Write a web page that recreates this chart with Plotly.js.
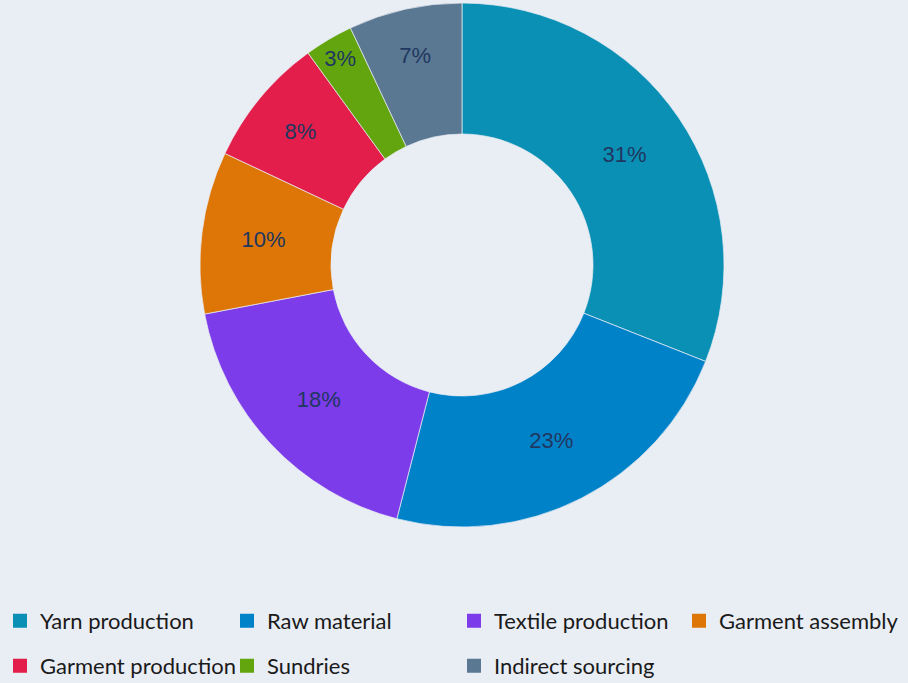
<!DOCTYPE html>
<html>
<head>
<meta charset="utf-8">
<script src="https://cdn.plot.ly/plotly-3.0.1.min.js"></script>
<style>html,body{margin:0;padding:0;background:#E9EDF4;}#chart{width:908px;height:683px;}</style>
</head>
<body>
<div id="chart"></div>
<script>
const categories = ["Yarn production", "Raw material", "Textile production", "Garment assembly", "Garment production", "Sundries", "Indirect sourcing"];
const shares = [31, 23, 18, 10, 8, 3, 7];
const colors = ["#0990B4", "#0082C9", "#7C3CEA", "#DD7606", "#E31E4A", "#63A50E", "#5B7893"];

const row1a = [0, 1, 2];
const row1b = [3];
const row2 = [4, 5, 6];

const main = {
  type: "pie",
  labels: categories,
  values: shares,
  marker: {colors: colors, line: {color: "rgba(233,237,244,0.7)", width: 1}},
  hole: 0.5,
  sort: false,
  direction: "clockwise",
  rotation: 0,
  textinfo: "text",
  texttemplate: "%{value}%",
  textposition: "inside",
  insidetextorientation: "horizontal",
  textfont: {family: "Liberation Sans, Arial, sans-serif", size: 22, color: "#203760"},
  showlegend: false,
  hoverinfo: "label+percent"
};

// legend-only helper pies, drawn first so the main donut covers them
function legendPie(idx, legendName) {
  return {
    type: "pie",
    labels: idx.map(i => categories[i]),
    values: idx.map(i => shares[i]),
    marker: {colors: idx.map(i => colors[i]), line: {color: idx.map(i => colors[i]), width: 2}},
    sort: false,
    textinfo: "none",
    hoverinfo: "skip",
    domain: {x: [0.72, 0.7201], y: [0.53, 0.5301]},
    legend: legendName,
    showlegend: true
  };
}

const legendFont = {family: "Lato, Open Sans, sans-serif", size: 22, color: "#1A1A1A"};

function legendBox(xpx, ypx) {
  return {
    orientation: "h", xref: "container", yref: "container",
    x: xpx / 908, y: 1 - ypx / 683, xanchor: "left", yanchor: "middle",
    font: legendFont, entrywidth: 182, entrywidthmode: "pixels",
    bgcolor: "rgba(0,0,0,0)", traceorder: "normal"
  };
}

const layout = {
  width: 908,
  height: 683,
  paper_bgcolor: "#E9EDF4",
  plot_bgcolor: "#E9EDF4",
  margin: {l: 16, r: 0, t: 3, b: 156},
  legend: legendBox(-1, 621),
  legend2: legendBox(-1, 666),
  legend3: legendBox(679, 621)
};

Plotly.newPlot("chart", [legendPie(row1a, "legend"), legendPie(row1b, "legend3"), legendPie(row2, "legend2"), main], layout, {displayModeBar: false});
</script>
</body>
</html>
